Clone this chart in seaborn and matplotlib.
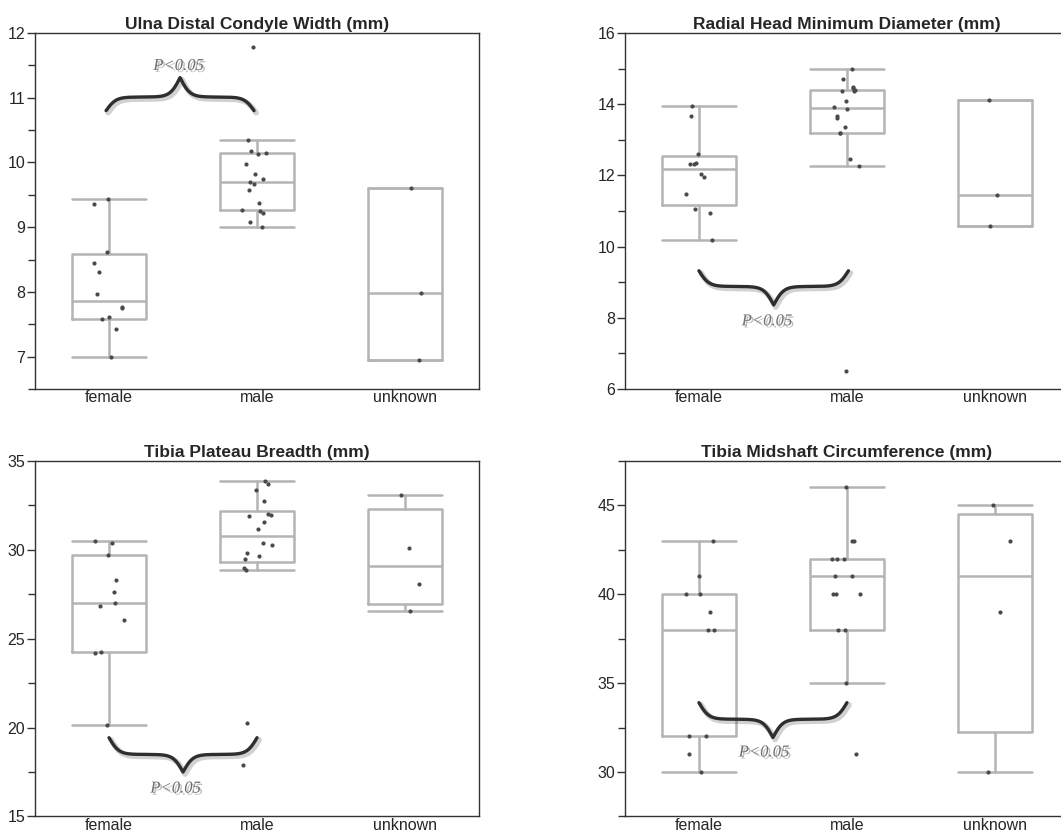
import numpy as np
import pandas as pd
import matplotlib
matplotlib.use("Agg")
import matplotlib.pyplot as plt
import matplotlib.patheffects as pe
import seaborn as sns

groups = ["female", "male", "unknown"]

ulna_female = [7.0, 7.43, 7.58, 7.61, 7.75, 7.77, 7.96, 8.31, 8.45, 8.62, 9.35, 9.44]
ulna_male = [9.0, 9.08, 9.22, 9.25, 9.27, 9.38, 9.58, 9.66, 9.69, 9.74, 9.82, 9.97,
             10.13, 10.15, 10.17, 10.35, 11.79]
ulna_unknown = [6.94, 7.98, 9.6]

radial_female = [10.18, 10.95, 11.05, 11.49, 11.95, 12.03, 12.31, 12.33, 12.35, 12.59, 13.68, 13.96]
radial_male = [6.5, 12.25, 12.47, 13.18, 13.2, 13.36, 13.62, 13.68, 13.85, 13.93, 14.1, 14.36,
               14.38, 14.39, 14.45, 14.48, 14.71, 14.98]
radial_unknown = [10.59, 11.46, 14.12]

plateau_female = [20.12, 24.19, 24.24, 26.04, 26.84, 27.03, 27.6, 28.3, 29.72, 30.39, 30.5]
plateau_male = [17.9, 20.23, 28.86, 28.95, 29.45, 29.64, 29.79, 30.26, 30.35, 31.15, 31.55, 31.9,
                31.97, 32.0, 32.74, 33.34, 33.67, 33.86]
plateau_unknown = [26.56, 28.05, 30.07, 33.06]

midshaft_female = [30, 31, 32, 32, 38, 38, 39, 40, 40, 41, 43]
midshaft_male = [31, 35, 38, 38, 40, 40, 40, 41, 41, 42, 42, 42, 43, 43, 46]
midshaft_unknown = [30, 39, 43, 45]

titles = ["Ulna Distal Condyle Width (mm)", "Radial Head Minimum Diameter (mm)",
          "Tibia Plateau Breadth (mm)", "Tibia Midshaft Circumference (mm)"]
panel_data = [
    [ulna_female, ulna_male, ulna_unknown],
    [radial_female, radial_male, radial_unknown],
    [plateau_female, plateau_male, plateau_unknown],
    [midshaft_female, midshaft_male, midshaft_unknown],
]
ylims = [(6.5, 12), (6, 16), (15, 35), (27.5, 47.5)]
major_ticks = [np.arange(7, 12.1, 1), np.arange(6, 16.1, 2), np.arange(15, 35.1, 5), np.arange(30, 45.1, 5)]
minor_ticks = [np.arange(6.5, 12, 1), np.arange(7, 16, 2), np.arange(17.5, 35, 5), np.arange(27.5, 48, 5)]
# brace: x0, x1, y_end, y_arm, y_tip, text_x, text_y
braces = [
    (-0.02, 0.98, 10.8, 11.01, 11.31, 0.47, 11.49),
    (0.0, 1.01, 9.32, 8.88, 8.36, 0.46, 7.9),
    (0.0, 1.0, 19.43, 18.49, 17.5, 0.45, 16.57),
    (0.0, 1.0, 33.9, 32.97, 31.94, 0.44, 31.1),
]


def box_stats(values):
    v = np.sort(np.asarray(values, float))
    q1, med, q3 = np.percentile(v, [25, 50, 75], method="weibull")
    iqr = q3 - q1
    lo = v[v >= q1 - 1.5 * iqr].min()
    hi = v[v <= q3 + 1.5 * iqr].max()
    return dict(med=med, q1=q1, q3=q3, whislo=lo, whishi=hi, fliers=[])


def draw_brace(ax, x0, x1, y_end, y_arm, y_tip, b=30):
    t = np.linspace(0, 0.5, 200)
    s1 = 2 / (1 + np.exp(-b * t)) - 1
    s2 = 2 / (1 + np.exp(-b * (t - 0.5)))
    half = y_end + (y_arm - y_end) * s1 + (y_tip - y_arm) * s2
    tt = np.concatenate([t, 1 - t[::-1][1:]])
    yy = np.concatenate([half, half[::-1][1:]])
    ax.plot(x0 + (x1 - x0) * tt, yy, color="#2e2e2e", lw=2.4, solid_capstyle="round",
            path_effects=[pe.SimpleLineShadow(offset=(1.5, -1.5), shadow_color="k", alpha=0.18, linewidth=4.0),
                          pe.Normal()], zorder=5)


sns.set_style("ticks")
plt.rcParams["font.family"] = ["Liberation Sans", "DejaVu Sans"]

fig = plt.figure(figsize=(10.61, 8.34), dpi=100)
rects = [[0.033, 0.5336, 0.4185, 0.4269], [0.589, 0.5336, 0.4185, 0.4269],
         [0.033, 0.021, 0.4185, 0.4265], [0.589, 0.021, 0.4185, 0.4265]]

box_color = "#b4b4b4"
np.random.seed(3)
for i in range(4):
    ax = fig.add_axes(rects[i])
    df = pd.DataFrame({
        "group": np.repeat(groups, [len(v) for v in panel_data[i]]),
        "value": np.concatenate([np.asarray(v, float) for v in panel_data[i]]),
    })
    stats = [box_stats(v) for v in panel_data[i]]
    line = dict(color=box_color, lw=1.8)
    ax.bxp(stats, positions=[0, 1, 2], widths=0.5, capwidths=0.5, showfliers=False,
           boxprops=line, whiskerprops=line, capprops=line, medianprops=line, manage_ticks=False)
    sns.stripplot(data=df, x="group", y="value", order=groups, color="#4a4a4a", size=3,
                  jitter=0.11, linewidth=0, ax=ax, zorder=4)

    x0, x1, ye, ya, yt, tx, ty = braces[i]
    draw_brace(ax, x0, x1, ye, ya, yt)
    ax.text(tx, ty, "P<0.05", family=["Liberation Serif", "DejaVu Serif"], style="italic",
            fontsize=12, color="#6e6e6e", ha="center", va="center", zorder=5,
            path_effects=[pe.withSimplePatchShadow(offset=(1.5, -1.5), shadow_rgbFace="k", alpha=0.25)])

    ax.set_xlim(-0.5, 2.5)
    ax.set_ylim(*ylims[i])
    ax.set_yticks(major_ticks[i])
    ax.set_yticks(minor_ticks[i], minor=True)
    ax.set_yticklabels(["{:g}".format(v) for v in major_ticks[i]])
    ax.set_xlabel("")
    ax.set_ylabel("")
    ax.set_title(titles[i], fontsize=12.5, fontweight="bold", pad=3)
    ax.tick_params(axis="x", length=0, pad=1, labelsize=11.5)
    ax.tick_params(axis="y", which="major", length=6, width=1, pad=1, labelsize=11.5, color="#333333")
    ax.tick_params(axis="y", which="minor", length=5, width=1, color="#333333")
    for s in ax.spines.values():
        s.set_visible(True)
        s.set_color("#333333")
        s.set_linewidth(1)
    if i % 2 == 1:
        ax.spines["right"].set_visible(False)

fig.savefig("out.png", dpi=100)
